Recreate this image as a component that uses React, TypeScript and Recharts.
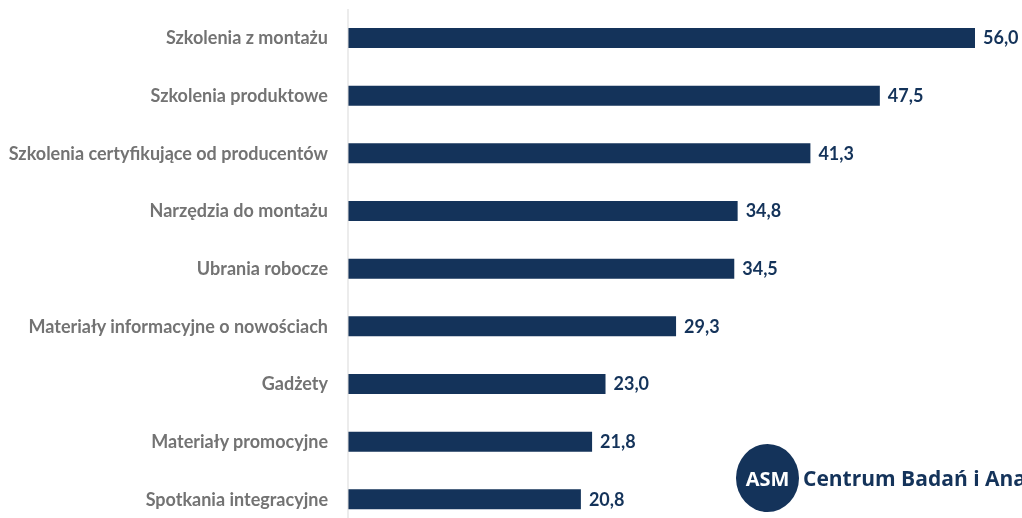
import { BarChart, Bar, XAxis, YAxis, LabelList } from 'recharts'

const categories = [
  'Szkolenia z montażu',
  'Szkolenia produktowe',
  'Szkolenia certyfikujące od producentów',
  'Narzędzia do montażu',
  'Ubrania robocze',
  'Materiały informacyjne o nowościach',
  'Gadżety',
  'Materiały promocyjne',
  'Spotkania integracyjne',
]

const values = [56.0, 47.5, 41.3, 34.8, 34.5, 29.3, 23.0, 21.8, 20.8]

const data = categories.map((name, i) => ({ name, value: values[i] }))

const navy = '#14335A'

const fmt = (v: number) => v.toFixed(1).replace('.', ',')

export default function App() {
  return (
    <div style={{ position: 'fixed', left: 0, top: 0, width: 1022, height: 518, overflow: 'hidden', fontFamily: 'Lato, sans-serif' }}>
      <div style={{ position: 'absolute', left: 8, top: 8 }}>
        <BarChart
          width={1014}
          height={530}
          data={data}
          layout="vertical"
          barSize={20}
          margin={{ top: 1, right: 47, left: 0, bottom: 10 }}
          style={{ overflow: 'visible' }}
        >
          <XAxis type="number" domain={[0, 56]} hide />
          <YAxis
            type="category"
            dataKey="name"
            width={340}
            tickLine={false}
            axisLine={{ stroke: '#d9d9d9' }}
            tickMargin={14}
            tick={{ fill: '#737373', fontSize: 18, fontWeight: 700, fontFamily: 'Lato' }}
          />
          <Bar dataKey="value" fill={navy} isAnimationActive={false}>
            <LabelList
              dataKey="value"
              position="right"
              offset={8}
              formatter={(v: any) => fmt(Number(v))}
              style={{ fill: navy, fontSize: 18, fontWeight: 700, fontFamily: 'Lato' }}
            />
          </Bar>
        </BarChart>
      </div>
      <div style={{ position: 'absolute', left: 736, top: 444, display: 'flex', alignItems: 'center', whiteSpace: 'nowrap' }}>
        <div
          style={{
            width: 63,
            height: 68,
            borderRadius: '50%',
            background: navy,
            color: '#fff',
            display: 'flex',
            alignItems: 'center',
            justifyContent: 'center',
            fontFamily: '"Open Sans", sans-serif',
            fontWeight: 700,
            fontSize: 20,
          }}
        >
          ASM
        </div>
        <span style={{ marginLeft: 4, color: navy, fontFamily: '"Open Sans", sans-serif', fontWeight: 700, fontSize: 21 }}>
          Centrum Badań i Analiz
        </span>
      </div>
    </div>
  )
}
